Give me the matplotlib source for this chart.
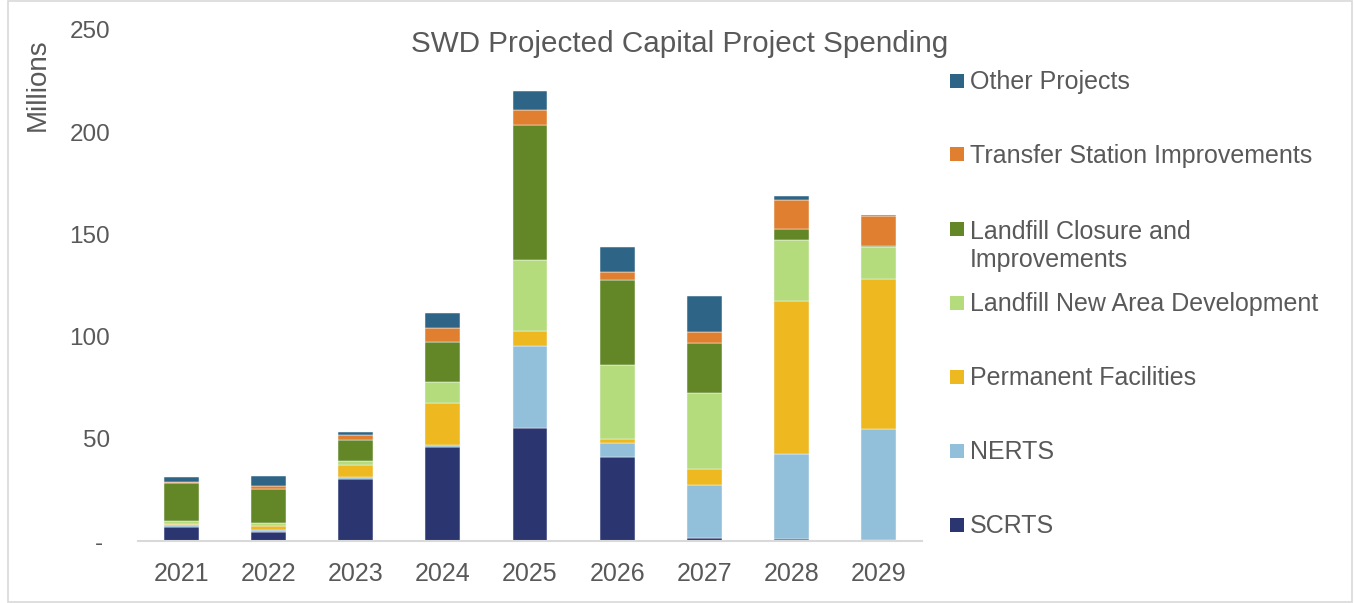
import matplotlib
matplotlib.use("Agg")
import matplotlib.pyplot as plt
from matplotlib.patches import Rectangle
from matplotlib.ticker import FuncFormatter, FixedLocator
import numpy as np

years = ["2021", "2022", "2023", "2024", "2025", "2026", "2027", "2028", "2029"]
series_names = ["SCRTS", "NERTS", "Permanent Facilities", "Landfill New Area Development",
                "Landfill Closure and\nImprovements", "Transfer Station Improvements", "Other Projects"]
scrts = [7.0, 4.5, 30.1, 46.0, 55.3, 41.1, 1.3, 1.0, 0.3]
nerts = [0.8, 0.9, 1.1, 0.8, 40.0, 6.9, 26.2, 41.8, 54.3]
permanent = [0.6, 2.1, 6.0, 20.7, 7.5, 1.8, 7.8, 74.8, 73.5]
landfill_new = [1.5, 1.1, 1.7, 10.4, 34.6, 36.1, 37.2, 29.9, 15.5]
landfill_closure = [18.5, 16.6, 10.5, 19.3, 66.3, 41.6, 24.2, 5.3, 0.9]
transfer = [0.5, 1.6, 2.3, 7.2, 7.2, 4.2, 5.7, 13.9, 14.4]
other = [2.3, 5.2, 1.6, 7.2, 9.4, 12.2, 17.6, 2.1, 0.8]
yticks = [0, 50, 100, 150, 200, 250]

colors = ["#2b3671", "#92bfd9", "#edb820", "#b5dc7c", "#638726", "#e07f2f", "#2e6587"]
TXT = "#595959"
FONT = "Liberation Sans"
plt.rcParams["font.family"] = [FONT, "DejaVu Sans"]

W, H = 1356, 603
fig = plt.figure(figsize=(W / 100, H / 100), dpi=100)
ax = fig.add_axes([138 / W, 1 - 541 / H, (922 - 138) / W, (541 - 30) / H])

data = [scrts, nerts, permanent, landfill_new, landfill_closure, transfer, other]
x = np.arange(len(years))
bottom = np.zeros(len(years))
for vals, c in zip(data, colors):
    v = np.array(vals)
    ax.bar(x, v, 0.40, bottom=bottom, color=c, edgecolor="#f4f7fa", linewidth=0.35)
    bottom += v

ax.set_xlim(-0.5, len(years) - 0.5)
ax.set_ylim(0, 250)
ax.set_xticks(x)
ax.set_xticklabels(years)
ax.yaxis.set_major_locator(FixedLocator(yticks))
ax.yaxis.set_major_formatter(FuncFormatter(lambda v, p: "- " if v == 0 else f"{int(v)}"))
ax.tick_params(axis="x", length=0, pad=15, labelsize=18, labelcolor=TXT)
ax.tick_params(axis="y", length=0, pad=20, labelsize=17.5, labelcolor=TXT)
for s in ["top", "right", "left"]:
    ax.spines[s].set_visible(False)
ax.spines["bottom"].set_color("#d9d9d9")
ax.spines["bottom"].set_linewidth(1.5)

fig.text(680 / W, 1 - 52 / H, "SWD Projected Capital Project Spending", ha="center",
         va="baseline", fontsize=21.3, color=TXT)
fig.text(38 / W, 1 - 85 / H, "Millions", rotation=90, ha="center", va="center",
         fontsize=20, color=TXT)

# legend (Excel-style, top to bottom in reverse stacking order)
leg_y = [524.5, 450.5, 376.5, 302.5, 228.5, 154.5, 80.5]
LINE_PX = 29.7
for name, c, yc in zip(series_names, colors, leg_y):
    fig.patches.append(Rectangle((950 / W, 1 - (yc + 7) / H), 14 / W, 14 / H,
                                 transform=fig.transFigure, facecolor=c, edgecolor="none"))
    extra = (name.count("\n")) * LINE_PX
    fig.text(970 / W, 1 - (yc + 8.8 + extra) / H, name, ha="left", va="baseline",
             fontsize=18, color=TXT, linespacing=1.2)

# outer chart border
fig.patches.append(Rectangle((8 / W, 1 / H), (1352 - 8) / W, (602 - 1) / H,
                             transform=fig.transFigure, facecolor="none",
                             edgecolor="#d9d9d9", linewidth=1.2))

fig.savefig("out.png", dpi=100)
